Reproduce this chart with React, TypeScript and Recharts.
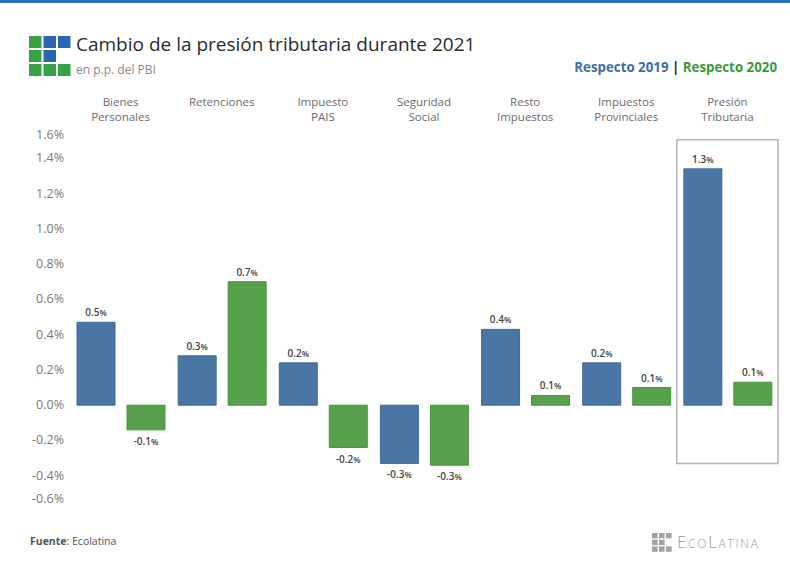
import React from "react";
import { BarChart, Bar, XAxis, YAxis, LabelList, ReferenceArea } from "recharts";

const categories = [
  "Bienes Personales",
  "Retenciones",
  "Impuesto PAIS",
  "Seguridad Social",
  "Resto Impuestos",
  "Impuestos Provinciales",
  "Presión Tributaria",
];
// cambio en p.p. del PBI
const vs2019 = [0.47, 0.28, 0.24, -0.33, 0.43, 0.24, 1.34];
const vs2020 = [-0.14, 0.7, -0.24, -0.34, 0.055, 0.1, 0.13];
const yTicks = [-0.6, -0.4, -0.2, 0, 0.2, 0.4, 0.6, 0.8, 1.0, 1.2, 1.4, 1.6];

const BLUE = "#4a76a5";
const GREEN = "#57a14d";
const FONT = "'Open Sans', 'Noto Sans', sans-serif";

const data = categories.map((c, i) => ({ name: c, r2019: vs2019[i], r2020: vs2020[i] }));

function CategoryTick(props: any) {
  const { x, payload } = props;
  const words: string[] = String(payload.value).split(" ");
  return (
    <g>
      {words.map((w, i) => (
        <text key={i} x={x} y={106 + i * 14.5} textAnchor="middle" fill="#6b6b6b" fontSize={11.5} fontFamily={FONT}>
          {w}
        </text>
      ))}
    </g>
  );
}

function PctTick(props: any) {
  const { y, payload } = props;
  const v = payload.value as number;
  // the end labels sit a bit inside the plot
  let yy = y;
  if (v === 1.6) yy = y + 12;
  if (v === -0.6) yy = y - 12;
  return (
    <text x={64} y={yy} dy={4} textAnchor="end" fill="#7a7a7a" fontSize={12.5} fontFamily={FONT}>
      {v.toFixed(1)}%
    </text>
  );
}

function ValueLabel(props: any) {
  const { x, y, width, height, value } = props;
  const top = Math.min(y, y + height);
  const bottom = Math.max(y, y + height);
  const ty = value >= 0 ? top - 6 : bottom + 15;
  return (
    <text x={x + width / 2} y={ty} textAnchor="middle" fill="#454545" fontSize={10} fontWeight={600} fontFamily={FONT}>
      {Number(value).toFixed(1)}
      <tspan fontSize={8.5}>%</tspan>
    </text>
  );
}

function Logo() {
  const cells: [number, number, string][] = [
    [0, 0, "#37a146"], [1, 0, "#2a66b1"], [2, 0, "#2a66b1"],
    [0, 1, "#37a146"], [1, 1, "#2a66b1"],
    [0, 2, "#37a146"], [1, 2, "#37a146"], [2, 2, "#37a146"],
  ];
  return (
    <svg width={44} height={42} style={{ position: "absolute", left: 29, top: 36 }}>
      {cells.map(([c, r, col], i) => (
        <rect key={i} x={c * 14.5} y={r * 14} width={12.5} height={12} fill={col} />
      ))}
    </svg>
  );
}

function FooterLogo() {
  const cells: [number, number][] = [
    [0, 0], [1, 0], [2, 0], [0, 1], [1, 1], [0, 2], [1, 2], [2, 2],
  ];
  return (
    <svg width={22} height={20} style={{ position: "absolute", left: 652, top: 533 }}>
      {cells.map(([c, r], i) => (
        <rect key={i} x={c * 7} y={r * 6.7} width={5.6} height={5.4} fill="#a3a3a3" />
      ))}
    </svg>
  );
}

export default function App() {
  return (
    <div style={{ position: "absolute", left: 0, top: 0, width: 790, height: 574, background: "#fff", overflow: "hidden" }}>
      <div style={{ position: "absolute", left: 0, top: 0, width: 790, height: 3, background: "#2a6fbb" }} />
      <Logo />
      <div style={{ position: "absolute", left: 76, top: 31, fontFamily: FONT, fontSize: 19, color: "#2b2b2b", whiteSpace: "nowrap" }}>
        Cambio de la presión tributaria durante 2021
      </div>
      <div style={{ position: "absolute", left: 76, top: 61, fontFamily: FONT, fontSize: 12, color: "#8a8a8a", whiteSpace: "nowrap" }}>
        en p.p. del PBI
      </div>
      <div style={{ position: "absolute", right: 13, top: 58, fontFamily: FONT, fontSize: 13.3, fontWeight: 700, whiteSpace: "nowrap" }}>
        <span style={{ color: "#3f6eaa" }}>Respecto 2019</span>
        <span style={{ color: "#222" }}> | </span>
        <span style={{ color: "#3a9a3e" }}>Respecto 2020</span>
      </div>

      <div style={{ position: "absolute", left: 0, top: 0 }}>
        <BarChart width={790} height={574} data={data} margin={{ top: 0, right: 12, bottom: 63, left: 0 }} barSize={38} barGap={12}>
          <XAxis dataKey="name" orientation="top" height={123} axisLine={false} tickLine={false} tick={<CategoryTick />} interval={0} />
          <YAxis
            domain={[-0.6, 1.6]}
            ticks={yTicks}
            width={70}
            axisLine={false}
            tickLine={false}
            tick={<PctTick />}
            interval={0}
          />
          <ReferenceArea
            x1="Presión Tributaria"
            x2="Presión Tributaria"
            y1={-0.33}
            y2={1.505}
            fill="none"
            stroke="#b3b3b3"
            strokeWidth={1.5}
            ifOverflow="visible"
          />
          <Bar dataKey="r2019" fill={BLUE} stroke="#3f6b9b" strokeWidth={1} isAnimationActive={false}>
            <LabelList dataKey="r2019" content={<ValueLabel />} />
          </Bar>
          <Bar dataKey="r2020" fill={GREEN} stroke="#4a9541" strokeWidth={1} isAnimationActive={false}>
            <LabelList dataKey="r2020" content={<ValueLabel />} />
          </Bar>
        </BarChart>
      </div>

      <div style={{ position: "absolute", left: 30, top: 534, fontFamily: FONT, fontSize: 10.5, color: "#555", whiteSpace: "nowrap" }}>
        <b>Fuente</b>: Ecolatina
      </div>
      <FooterLogo />
      <div style={{ position: "absolute", left: 677, top: 530, fontFamily: FONT, fontSize: 16.5, fontWeight: 300, color: "#9a9a9a", fontVariant: "small-caps", letterSpacing: 1.8, whiteSpace: "nowrap" }}>
        EcoLatina
      </div>
    </div>
  );
}
